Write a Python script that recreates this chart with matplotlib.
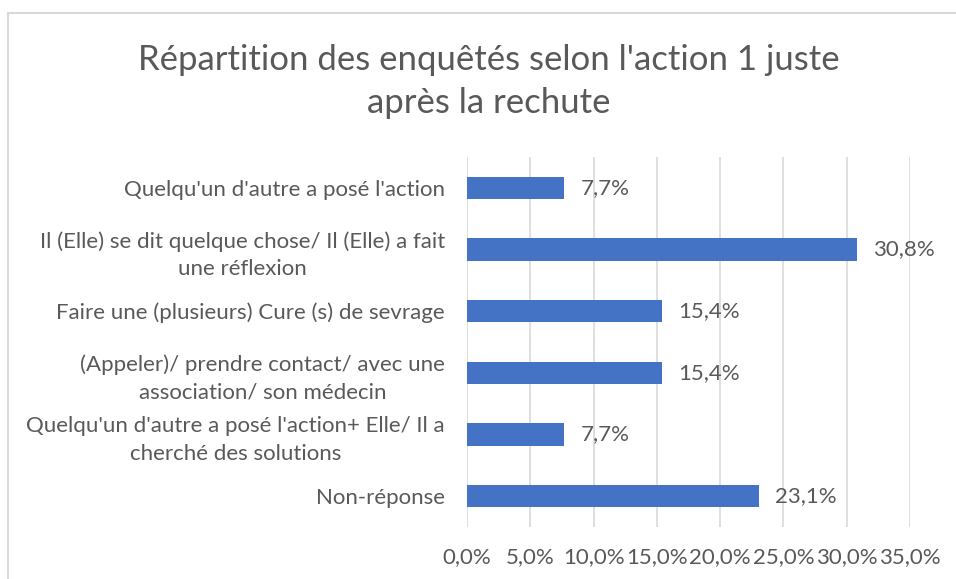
import matplotlib
matplotlib.use("Agg")
import matplotlib.pyplot as plt
from matplotlib.patches import Rectangle

categories = [
    "Quelqu'un d'autre a posé l'action",
    "Il (Elle) se dit quelque chose/ Il (Elle) a fait\nune réflexion",
    "Faire une (plusieurs) Cure (s) de sevrage",
    "(Appeler)/ prendre contact/ avec une\nassociation/ son médecin",
    "Quelqu'un d'autre a posé l'action+ Elle/ Il a\ncherché des solutions",
    "Non-réponse",
]
values = [7.7, 30.8, 15.4, 15.4, 7.7, 23.1]
value_labels = ["7,7%", "30,8%", "15,4%", "15,4%", "7,7%", "23,1%"]
xticks = [0, 5, 10, 15, 20, 25, 30, 35]
xtick_labels = ["0,0%", "5,0%", "10,0%", "15,0%", "20,0%", "25,0%", "30,0%", "35,0%"]
title = "Répartition des enquêtés selon l'action 1 juste\naprès la rechute"

plt.rcParams['font.family'] = ['Lato', 'DejaVu Sans']
TXT = "#595959"
BAR = "#4472C4"
GRID = "#D9D9D9"
FS = 16

W, H = 956, 579
fig = plt.figure(figsize=(W/100, H/100), dpi=100)

# chart area border
fig.patches.append(Rectangle((8/W, -0.05), 1.1, 1 - 12.5/H + 0.05, transform=fig.transFigure,
                             fill=False, edgecolor=GRID, linewidth=1.5))

ax = fig.add_axes([467/W, 1 - 527/H, (910-467)/W, (527-157)/H])
n = len(categories)
ypos = list(range(n))
ax.barh(ypos, values, height=0.36, color=BAR, zorder=3)
ax.set_ylim(n - 0.5, -0.5)
ax.set_xlim(0, 35)
ax.set_xticks(xticks)
ax.set_xticklabels(xtick_labels)
ax.set_yticks(ypos)
ax.set_yticklabels(categories, multialignment='center', linespacing=1.45)
ax.tick_params(axis='x', length=0, pad=14.5, labelsize=FS, labelcolor=TXT)
ax.tick_params(axis='y', length=0, pad=16, labelsize=FS, labelcolor=TXT)
ax.grid(axis='x', color=GRID, linewidth=1.2, zorder=0)
for s in ax.spines.values():
    s.set_visible(False)

for y, v, lab in zip(ypos, values, value_labels):
    ax.annotate(lab, (v, y), xytext=(11.5, 0), textcoords='offset points',
                va='center', ha='left', fontsize=FS, color=TXT)

fig.text(489/W, 1 - 81.5/H, title, ha='center', va='center', fontsize=25, color=TXT,
         linespacing=1.4)

fig.savefig("out.png", dpi=100)
